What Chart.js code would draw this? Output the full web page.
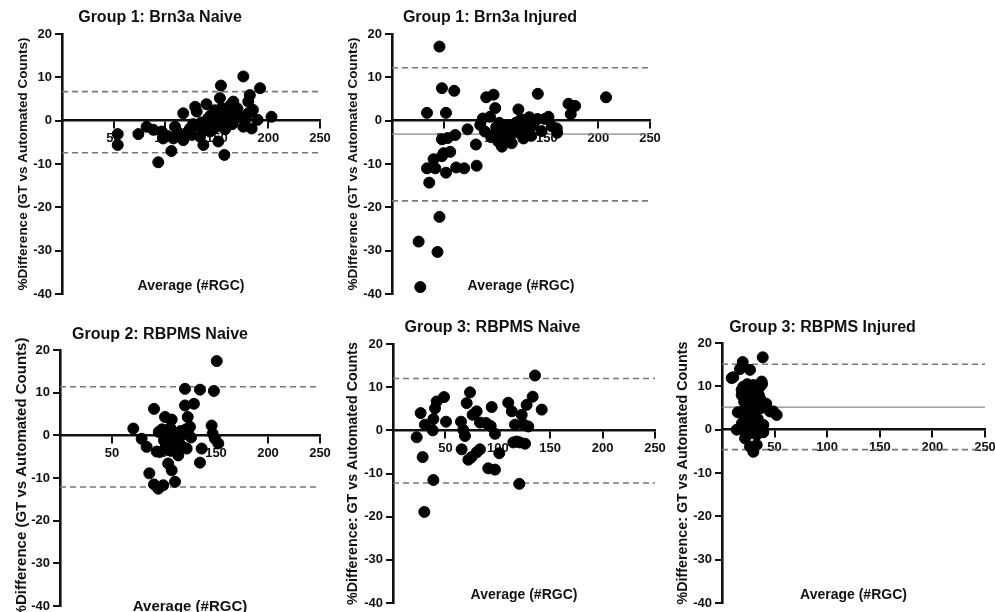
<!DOCTYPE html>
<html>
<head>
<meta charset="utf-8">
<script src="https://cdn.jsdelivr.net/npm/chart.js@4.4.0/dist/chart.umd.min.js"></script>
<style>
  html, body { margin: 0; padding: 0; background: #fff; overflow: hidden; }
  #wrap { position: relative; width: 995px; height: 612px; overflow: hidden; }
  canvas { position: absolute; }
</style>
</head>
<body>
<div id="wrap">
  <canvas id="p1" width="382" height="306" style="left:0px;top:0px"></canvas>
  <canvas id="p2" width="382" height="306" style="left:330px;top:0px"></canvas>
  <canvas id="p3" width="380" height="312" style="left:0px;top:310px"></canvas>
  <canvas id="p4" width="388" height="312" style="left:330px;top:310px"></canvas>
  <canvas id="p5" width="387" height="312" style="left:660px;top:310px"></canvas>
</div>
<script>
'use strict';

// tick labels shared by every panel
const xTicks = [50, 100, 150, 200, 250];
const yTicks = [-40, -30, -20, -10, 0, 10, 20];

// each point: [average #RGC, % difference]
const brn3aNaive = [[54,-3.1],[54,-5.6],[74,-3.1],[82,-1.4],[88.5,-2.1],[93.3,-9.6],[96.6,-2.5],[98,-4.1],
  [102,-3.5],[106,-7],[108,-4.1],[109.5,-1.4],[112,-2.6],[117.5,1.7],[117.5,-4.5],[121,-2.8],[124,-1.8],
  [125.7,-3.3],[127,-0.8],[129,3.2],[130.5,2.1],[132,-1.2],[133.7,-3.7],[135,-0.4],[137,-5.6],[138,-2],
  [140,3.8],[141.8,0.6],[143.4,-2.5],[144,1.2],[145,-1.2],[146,-0.3],[147,0.8],[148,2.4],[149,-1.5],
  [151.5,-4.8],[152,0.3],[153,5.2],[154,8.1],[154.7,2.9],[155,-0.6],[156,1.6],[157.3,-7.9],[158,-2],
  [159,0.5],[160,2.5],[161,-1],[162,1.2],[163,3.5],[164,0.2],[165,-0.8],[166,4.4],[167,1.8],[168,0.6],
  [170,2.8],[172,1],[175.7,10.2],[175.7,-1.4],[178,0.4],[180.5,1.7],[180.5,4.4],[182,5.9],[183.8,-1.8],
  [185,2.5],[189.6,0.2],[191.9,7.5],[203,0.9]];
const brn3aNaiveLimits = [6.7, -7.4];
const brn3aNaiveBias = null;

const brn3aInjured = [[25.8,-27.9],[27.4,-38.4],[33.9,1.8],[33.9,-11],[36.1,-14.3],[40.3,-8.9],[42,-11],
  [44.1,-30.3],[46,17.1],[46,-22.2],[48.4,7.5],[48.4,-4.3],[48.4,-8.2],[50,-7.5],[52.3,1.8],[52.3,-12],
  [54,-4],[56.4,-7.2],[60.3,6.9],[61.3,-3.3],[62.2,-10.8],[70,-11],[73.2,-2],[81.3,-5.5],[82,-10.4],
  [85.5,-1],[88,0.5],[90,-2.5],[91.3,5.4],[95,0.9],[96,-3.8],[98.4,6],[98.4,-3.3],[100,2.9],[101,-1.5],
  [103,-4.8],[104,-0.5],[106.5,-6],[108,-2.8],[110,-3.8],[112,-1.2],[114,-4],[116,-5.2],[118,-2.2],
  [120,-0.5],[122.5,2.6],[123,-2.8],[125,0.3],[127.4,-4.1],[129,-1.4],[131,-2.8],[133,0.8],[135,-3.5],
  [137,-1],[141.3,6.2],[141,0.4],[145,-2.4],[148,0.4],[151.6,0.9],[155,-1.3],[159.7,-1.8],[160,-2.8],
  [171,3.9],[173.2,1.5],[177.4,3.4],[207.4,5.4]];
const brn3aInjuredLimits = [12.2, -18.5];
const brn3aInjuredBias = -3.1;

const rbpmsNaive2 = [[70.5,1.6],[78.5,-0.8],[83.3,-2.7],[85.9,-8.9],[90.4,6.2],[90.4,-11.5],[93,-3.8],
  [94.5,-12.5],[95,0.8],[96,-3.9],[98,1.4],[99.3,-11.7],[100,-1.2],[101,4.3],[102,-2.5],[103,0.2],
  [104,-6.6],[105,-3.5],[106,1.8],[107.4,3.7],[107.4,-8.2],[108,-1.5],[110.6,-10.9],[111,-2.8],[112,0.5],
  [113.7,-4.7],[114,-1],[116,1],[117,-2.5],[118,0.2],[120.2,10.9],[120.2,7],[121,1.4],[121.8,-3.1],
  [122.8,4.3],[123,0.6],[125,2],[126,-0.5],[128.8,7.4],[134.6,10.7],[134.6,-6.4],[136.2,-3.1],[145.8,2.3],
  [146.8,0.4],[148,10.4],[149,-0.8],[150.7,17.4],[152.2,-1.9]];
const rbpmsNaive2Limits = [11.4, -12.1];
const rbpmsNaive2Bias = null;

const rbpmsNaive3 = [[22.6,-1.6],[26.4,4],[28.3,-6.2],[30.5,1.3],[29.9,-18.9],[37.9,0],[38.5,2.6],
  [38.5,-11.5],[40.1,5.1],[41.7,6.7],[48.7,7.7],[50.6,2],[64.9,2],[65.5,-4.4],[67.1,0.1],[68.7,-1.3],
  [70.3,6.3],[71.9,-6.8],[73.5,8.8],[74.9,-6.2],[76,3.6],[79.8,4.4],[79.8,-5.1],[83,-4.4],[83,1.8],
  [88.7,1.7],[90.9,-8.8],[93.2,1],[94.2,5.4],[97.3,-9.1],[97.3,-0.8],[101.4,-5.3],[110,6.4],[113.3,4.4],
  [114.8,-2.8],[116.4,1.3],[118,-2.6],[120.5,-12.4],[121,-2.8],[122.8,3.6],[124,1.5],[126,-3.1],
  [127.5,5.9],[129.1,0.9],[133.3,7.8],[135.5,12.7],[141.9,4.8]];
const rbpmsNaive3Limits = [12, -12.2];
const rbpmsNaive3Bias = null;

const rbpmsInjured3 = [[9.2,11.9],[10.7,12.1],[14,0],[15,4],[17.1,14],[18.7,8],[18.7,4.2],[18.7,9.2],
  [19.7,15.6],[19,1.5],[20.2,9.9],[20.2,-0.1],[21,6.5],[21.9,1.1],[21.9,-2],[22,3],[23,7.5],[24,2],
  [24,10.5],[25,5],[25,-1],[26,0.5],[26.6,13.8],[26.6,-3.9],[27,8.5],[27,3.5],[28,6],[28,1.5],[29,2.5],
  [29.8,10.3],[29.8,-5.1],[30,7],[31,4.5],[31,0.8],[32,9],[33,-3.5],[33,-1.2],[33,6.5],[34,2.5],[35,8],
  [36.1,7.2],[36.1,9.9],[36.1,1.1],[37,5],[37.7,11.1],[38.7,16.7],[38,10.5],[39.3,-0.6],[39.3,1.1],
  [40.9,5.3],[42,6],[45.6,4.2],[48.8,4.2],[52,3.4]];
const rbpmsInjured3Limits = [15.1, -4.6];
const rbpmsInjured3Bias = 5.2;

const FONT = "'Liberation Sans', Arial, sans-serif";
const INK = '#111';

// draws "Average (#RGC)" inside the plot, near the bottom
const xLabelPlugin = {
  id: 'xLabel',
  afterDraw(chart, args, opts) {
    const {ctx, chartArea, scales} = chart;
    ctx.save();
    ctx.font = 'bold ' + opts.size + 'px ' + FONT;
    ctx.fillStyle = INK;
    ctx.textAlign = 'center';
    ctx.textBaseline = 'middle';
    ctx.fillText(opts.text, (chartArea.left + chartArea.right) / 2, scales.y.getPixelForValue(opts.at));
    ctx.restore();
  }
};

function renderPanel(id, title, yTitle, points, limits, bias, geo) {
  let datasets = [{
    data: points.map(p => ({x: p[0], y: p[1]})),
    backgroundColor: '#000',
    borderColor: '#000',
    pointRadius: 5.5,
    pointHoverRadius: 5.5,
    clip: false
  }];
  limits.forEach(v => {
    datasets.push({
      data: [{x: 0, y: v}, {x: 250, y: v}],
      showLine: true,
      borderColor: '#777',
      borderWidth: 1.6,
      borderDash: [6, 4],
      pointRadius: 0
    });
  });
  if (bias !== null) {
    datasets.push({
      data: [{x: 0, y: bias}, {x: 250, y: bias}],
      showLine: true,
      borderColor: '#888',
      borderWidth: 1.4,
      pointRadius: 0
    });
  }

  const axisGrid = {drawOnChartArea: false, drawTicks: true, tickLength: 7, color: INK, lineWidth: 2};
  const axisBorder = {display: true, color: INK, width: 2.6};
  const tickFont = {family: FONT, size: 13, weight: 'bold'};

  new Chart(document.getElementById(id), {
    type: 'scatter',
    data: {datasets: datasets},
    plugins: [xLabelPlugin],
    options: {
      responsive: false,
      animation: false,
      layout: {padding: {left: 0, right: geo.yW, top: 0, bottom: geo.bottomPad}},
      plugins: {
        legend: {display: false},
        tooltip: {enabled: false},
        title: {
          display: true,
          text: title,
          color: INK,
          font: {family: FONT, size: 16, weight: 'bold'},
          padding: {top: geo.titleTop, bottom: geo.titleBottom}
        },
        xLabel: {text: 'Average (#RGC)', at: geo.xLabelAt, size: geo.xLabelSize}
      },
      scales: {
        x: {
          type: 'linear',
          min: 0,
          max: 250,
          position: {y: 0},
          afterBuildTicks: s => { s.ticks = xTicks.map(v => ({value: v})); },
          grid: axisGrid,
          border: axisBorder,
          ticks: {color: INK, font: tickFont, padding: 3, maxRotation: 0, autoSkip: false}
        },
        y: {
          type: 'linear',
          min: -40,
          max: 20,
          position: 'left',
          afterBuildTicks: s => { s.ticks = yTicks.map(v => ({value: v})); },
          afterFit: s => { s.width = geo.yW; s.paddingTop = 0; s.paddingBottom = 0; },
          grid: axisGrid,
          border: axisBorder,
          ticks: {color: INK, font: tickFont, padding: 3, autoSkip: false},
          title: {
            display: true,
            text: yTitle,
            color: INK,
            font: {family: FONT, size: geo.yTitleSize, weight: 'bold'},
            padding: {top: geo.yTitleX - geo.yTitleSize * 0.6, bottom: 0}
          }
        }
      }
    }
  });
}

const yTitleParen = '%Difference (GT vs Automated Counts)';
const yTitleColon = '%Difference: GT vs Automated Counts';

renderPanel('p1', 'Group 1: Brn3a Naive', yTitleParen, brn3aNaive, brn3aNaiveLimits, brn3aNaiveBias,
  {yW: 62, titleTop: 8.4, titleBottom: 6.4, bottomPad: 12, yTitleX: 23, yTitleSize: 13.5, xLabelAt: -38.2, xLabelSize: 14});
renderPanel('p2', 'Group 1: Brn3a Injured', yTitleParen, brn3aInjured, brn3aInjuredLimits, brn3aInjuredBias,
  {yW: 62, titleTop: 8.4, titleBottom: 6.4, bottomPad: 12, yTitleX: 23, yTitleSize: 13.5, xLabelAt: -38.2, xLabelSize: 14});
renderPanel('p3', 'Group 2: RBPMS Naive', yTitleParen, rbpmsNaive2, rbpmsNaive2Limits, rbpmsNaive2Bias,
  {yW: 60, titleTop: 15.4, titleBottom: 5.4, bottomPad: 16, yTitleX: 22, yTitleSize: 15, xLabelAt: -40.2, xLabelSize: 15});
renderPanel('p4', 'Group 3: RBPMS Naive', yTitleColon, rbpmsNaive3, rbpmsNaive3Limits, rbpmsNaive3Bias,
  {yW: 63, titleTop: 8.4, titleBottom: 6.4, bottomPad: 19, yTitleX: 23, yTitleSize: 14.3, xLabelAt: -38.1, xLabelSize: 14});
renderPanel('p5', 'Group 3: RBPMS Injured', yTitleColon, rbpmsInjured3, rbpmsInjured3Limits, rbpmsInjured3Bias,
  {yW: 62, titleTop: 8.4, titleBottom: 5.4, bottomPad: 19, yTitleX: 23, yTitleSize: 14.3, xLabelAt: -38.2, xLabelSize: 14});
</script>
</body>
</html>
